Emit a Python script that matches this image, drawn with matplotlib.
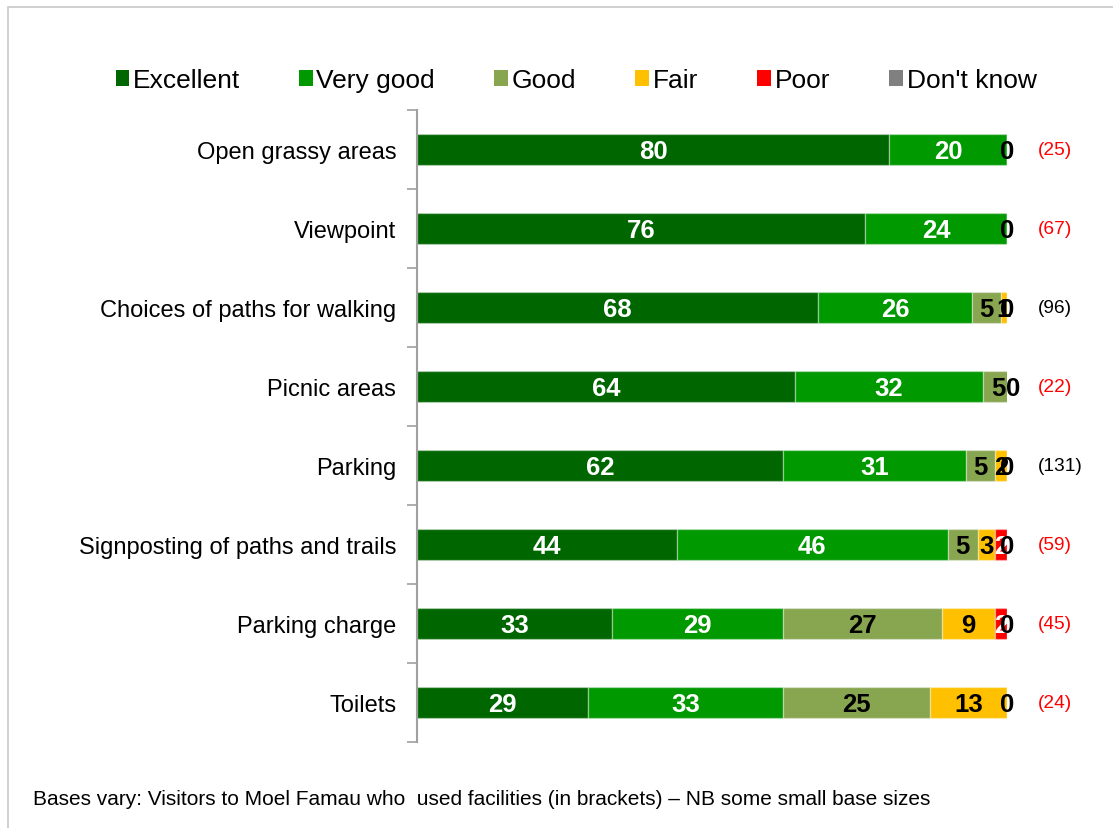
import matplotlib
matplotlib.use("Agg")
import matplotlib.pyplot as plt
import numpy as np
from matplotlib.patches import Rectangle

plt.rcParams['font.family'] = ['Liberation Sans', 'DejaVu Sans']

categories = [
    "Open grassy areas",
    "Viewpoint",
    "Choices of paths for walking",
    "Picnic areas",
    "Parking",
    "Signposting of paths and trails",
    "Parking charge",
    "Toilets",
]
series_names = ["Excellent", "Very good", "Good", "Fair", "Poor", "Don't know"]
excellent = [80, 76, 68, 64, 62, 44, 33, 29]
very_good = [20, 24, 26, 32, 31, 46, 29, 33]
good      = [0, 0, 5, 5, 5, 5, 27, 25]
fair      = [0, 0, 1, 0, 2, 3, 9, 13]
poor      = [0, 0, 0, 0, 0, 2, 2, 0]
dont_know = [0, 0, 0, 0, 0, 0, 0, 0]
bases     = [25, 67, 96, 22, 131, 59, 45, 24]
base_small = [True, True, False, True, False, True, True, True]
footnote = ("Bases vary: Visitors to Moel Famau who  used facilities (in brackets) "
            "\u2013 NB some small base sizes")

series = [excellent, very_good, good, fair, poor, dont_know]
colors = ["#006600", "#009900", "#88A54F", "#FFC000", "#FF0000", "#808080"]
label_colors = ["white", "white", "black", "black", "white", "black"]

W, H = 1113, 829
fig = plt.figure(figsize=(W / 100, H / 100), dpi=100)
fig.patch.set_facecolor("white")

# light frame around the chart area
fig.add_artist(Rectangle((8 / W, -0.1), 1.2, 1 - 8 / H + 0.1, transform=fig.transFigure,
                         fill=False, edgecolor="#C8C8C8", linewidth=1.2))

ax = fig.add_axes([417 / W, (H - 743) / H, (1007 - 417) / W, (743 - 111) / H])

y = np.arange(len(categories))
left = np.zeros(len(categories))
handles = []
for vals, col, lcol, name in zip(series, colors, label_colors, series_names):
    vals = np.array(vals, dtype=float)
    bars = ax.barh(y, vals, left=left, height=0.4, color=col,
                   edgecolor=(1, 1, 1, 0.35), linewidth=1.0, label=name)
    handles.append(bars)
    for yi, (l, v) in enumerate(zip(left, vals)):
        if v > 0 or name == "Don't know":
            ax.text(l + v / 2, yi + 0.02, f"{int(v)}", ha="center", va="center",
                    color=lcol, fontsize=18.5, fontweight="bold")
    left = left + vals

ax.set_xlim(0, 100)
ax.set_ylim(len(categories) - 0.5, -0.5)

# base sizes to the right of each bar
for yi, (b, small) in enumerate(zip(bases, base_small)):
    ax.text(105.3, yi, f"({b})", ha="left", va="center", fontsize=13.8,
            color="#FF0000" if small else "#000000", clip_on=False)

ax.set_xticks([])
ax.set_yticks(np.arange(len(categories) + 1) - 0.5)
ax.set_yticklabels([])
ax.set_yticks(y, minor=True)
ax.set_yticklabels(categories, minor=True, fontsize=17)
ax.tick_params(axis="y", which="major", length=7, width=1.2, color="#A0A0A0", direction="out")
ax.tick_params(axis="y", which="minor", length=0, pad=15)
for s in ["top", "right", "bottom"]:
    ax.spines[s].set_visible(False)
ax.spines["left"].set_color("#A0A0A0")
ax.spines["left"].set_linewidth(1.5)

leg = fig.legend(handles=handles, labels=series_names, loc="center",
                 bbox_to_anchor=(576 / W, 1 - 81 / H), ncol=6, frameon=False,
                 fontsize=19, handlelength=0.5, handleheight=0.55,
                 handletextpad=0.15, columnspacing=2.25, borderaxespad=0)
for p in leg.get_patches():
    p.set_edgecolor("none")

fig.text(33 / W, 1 - 800 / H, footnote, ha="left", va="center", fontsize=15)

fig.savefig("out.png", dpi=100, facecolor="white")
